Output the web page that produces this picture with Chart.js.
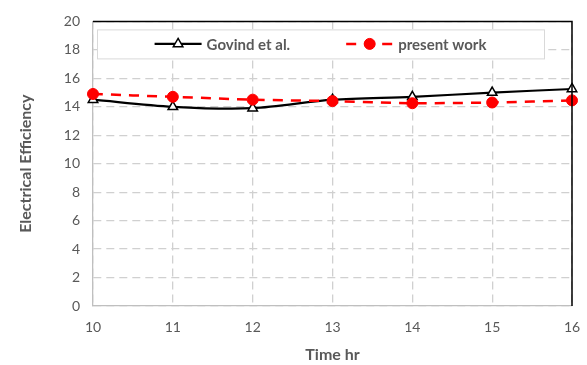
<!DOCTYPE html>
<html>
<head>
<meta charset="utf-8">
<script src="https://cdn.jsdelivr.net/npm/chart.js@4"></script>
<style>
  body { margin: 0; background: #fff; }
</style>
</head>
<body>
<canvas id="grafico" width="587" height="365"></canvas>
<script>
const horas = ["10", "11", "12", "13", "14", "15", "16"];
const govind = [14.5, 14.0, 13.9, 14.5, 14.7, 15.0, 15.25];
const presente = [14.9, 14.7, 14.5, 14.4, 14.25, 14.3, 14.45];
const yTicks = [0, 20, 2]; // min, max, step

const gris = "#595959";

// leyenda dentro del area con recuadro, linea + marcador
const leyendaCaja = {
    id: "leyendaCaja",
    afterDraw(chart) {
        const ctx = chart.ctx;
        const ca = chart.chartArea;

        // bordes superior y derecho en negro
        ctx.save();
        ctx.strokeStyle = "#000";
        ctx.lineWidth = 1.5;
        ctx.beginPath();
        ctx.moveTo(ca.left, ca.top);
        ctx.lineTo(ca.right, ca.top);
        ctx.lineTo(ca.right, ca.bottom);
        ctx.stroke();

        const x0 = ca.left + 4, x1 = ca.right - 28;
        const y0 = ca.top + 8, h = 29;
        ctx.fillStyle = "#fff";
        ctx.fillRect(x0, y0, x1 - x0, h);
        ctx.strokeStyle = "#d9d9d9";
        ctx.lineWidth = 1;
        ctx.strokeRect(x0 + 0.5, y0 + 0.5, x1 - x0, h);

        ctx.font = "bold 15px Lato";
        ctx.textBaseline = "middle";
        const lineaLen = 47, sep = 5, gap = 56;
        const items = [chart.data.datasets[0], chart.data.datasets[1]];
        const anchos = items.map(d => lineaLen + sep + ctx.measureText(d.label).width);
        const total = anchos.reduce((a, b) => a + b, 0) + gap;
        let x = (x0 + x1) / 2 - total / 2;
        const yc = y0 + h / 2;

        items.forEach((d, i) => {
            ctx.strokeStyle = d.borderColor;
            ctx.lineWidth = d.borderWidth;
            ctx.setLineDash(d.borderDash || []);
            ctx.beginPath();
            ctx.moveTo(x, yc);
            ctx.lineTo(x + lineaLen, yc);
            ctx.stroke();
            ctx.setLineDash([]);
            ctx.fillStyle = d.pointBackgroundColor;
            ctx.strokeStyle = d.pointBorderColor;
            ctx.lineWidth = d.pointBorderWidth;
            const cx = x + lineaLen / 2;
            const r = d.pointRadius;
            ctx.beginPath();
            if (d.pointStyle === "triangle") {
                ctx.moveTo(cx, yc - r);
                ctx.lineTo(cx + r * 0.87, yc + r * 0.5);
                ctx.lineTo(cx - r * 0.87, yc + r * 0.5);
                ctx.closePath();
            } else {
                ctx.arc(cx, yc, r, 0, Math.PI * 2);
            }
            ctx.fill();
            ctx.stroke();
            ctx.fillStyle = gris;
            ctx.fillText(d.label, x + lineaLen + sep, yc + 1);
            x += anchos[i] + gap;
        });
        ctx.restore();
    }
};

new Chart(document.getElementById("grafico"), {
    type: "line",
    data: {
        labels: horas,
        datasets: [{
            label: "Govind et al.",
            data: govind,
            borderColor: "#000",
            borderWidth: 2.2,
            tension: 0.3,
            pointStyle: "triangle",
            pointRadius: 5.5,
            pointBackgroundColor: "#fff",
            pointBorderColor: "#000",
            pointBorderWidth: 1.5,
            order: 2
        }, {
            label: "present work",
            data: presente,
            borderColor: "#ff0000",
            borderWidth: 2.5,
            borderDash: [10, 8],
            tension: 0.2,
            pointStyle: "circle",
            pointRadius: 5.5,
            pointBackgroundColor: "#ff0000",
            pointBorderColor: "#ff0000",
            pointBorderWidth: 1,
            order: 1
        }]
    },
    options: {
        responsive: false,
        animation: false,
        layout: { padding: { top: 17, right: 15, left: 0, bottom: 0 } },
        plugins: {
            legend: { display: false },
            tooltip: { enabled: false }
        },
        scales: {
            x: {
                offset: false,
                grid: { color: "#d0d0d0", drawTicks: false, lineWidth: 1.3 },
                border: { color: "#bfbfbf", dash: [8, 5], width: 1.3 },
                ticks: { color: gris, font: { family: "Lato", size: 14 }, padding: 13, maxRotation: 0 },
                title: { display: true, text: "Time hr", color: gris, font: { family: "Lato", size: 16, weight: "bold" }, padding: { top: 6, bottom: 1 } },
                afterFit(s) { s.height = 59; s.paddingRight = 0; s.paddingLeft = 0; }
            },
            y: {
                min: yTicks[0],
                max: yTicks[1],
                grid: { color: "#d0d0d0", drawTicks: false, lineWidth: 1.3 },
                border: { color: "#bfbfbf", dash: [8, 5], width: 1.3 },
                ticks: { stepSize: yTicks[2], color: gris, font: { family: "Lato", size: 14 }, padding: 13 },
                title: { display: true, text: "Electrical Efficiency", color: gris, font: { family: "Lato", size: 16, weight: "bold" }, padding: { top: 16, bottom: 8 } },
                afterFit(s) { s.width = 93; }
            }
        }
    },
    plugins: [leyendaCaja]
});
</script>
</body>
</html>
